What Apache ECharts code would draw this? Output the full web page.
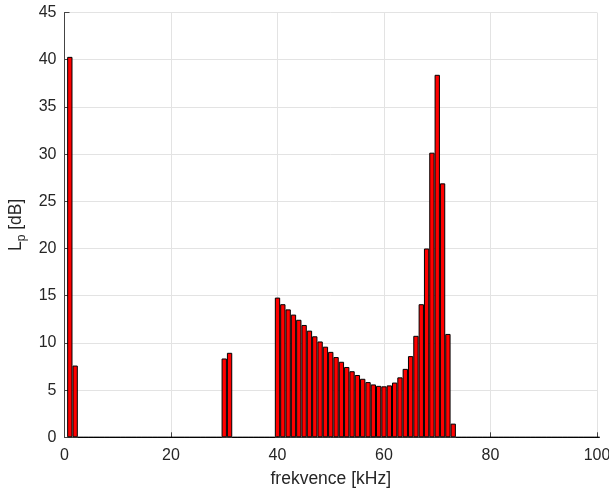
<!DOCTYPE html>
<html>
<head>
<meta charset="utf-8">
<script src="https://cdn.jsdelivr.net/npm/echarts@6/dist/echarts.min.js"></script>
<style>html,body{margin:0;padding:0;background:#fff}#c{width:609px;height:494px}</style>
</head>
<body>
<div id="c"></div>
<script>
// frequencies in kHz (1..100); nonzero levels listed, all others are 0
var frequencies = [];
for (var i = 1; i <= 100; i++) frequencies.push(i);
var peakFreqs = [1, 2, 30, 31,
  40, 41, 42, 43, 44, 45, 46, 47, 48, 49, 50, 51, 52, 53, 54, 55, 56, 57, 58, 59,
  60, 61, 62, 63, 64, 65, 66, 67, 68, 69, 70, 71, 72, 73];
var peakLevels = [40.3, 7.6, 8.35, 8.95,
  14.8, 14.1, 13.55, 13.0, 12.45, 11.9, 11.3, 10.7, 10.15, 9.6, 9.05, 8.5, 8.0, 7.45, 7.0, 6.6, 6.2, 5.85, 5.6, 5.45,
  5.4, 5.5, 5.8, 6.35, 7.25, 8.6, 10.75, 14.1, 20.0, 30.15, 38.4, 26.9, 10.95, 1.45];
var xTicks = [0, 20, 40, 60, 80, 100];
var yTicks = [0, 5, 10, 15, 20, 25, 30, 35, 40, 45];

var levels = frequencies.map(function (f) {
  var k = peakFreqs.indexOf(f);
  return k >= 0 ? peakLevels[k] : 0;
});
var data = frequencies.map(function (f, i) { return [f, levels[i]]; });

var chart = echarts.init(document.getElementById('c'));
var font = 'Liberation Sans, Arial, Helvetica, sans-serif';
chart.setOption({
  animation: false,
  grid: { left: 64.5, right: 12, top: 12.5, bottom: 56.7, containLabel: false, outerBoundsMode: 'none' },
  xAxis: {
    type: 'value', min: xTicks[0], max: xTicks[xTicks.length - 1], interval: 20,
    name: 'frekvence [kHz]', nameLocation: 'middle', nameGap: 33,
    nameTextStyle: { fontFamily: font, fontSize: 17.5, color: '#262626' },
    axisLine: { show: true, lineStyle: { color: '#444', width: 1 } },
    axisTick: { show: true, inside: true, length: 5, lineStyle: { color: '#444' } },
    axisLabel: { fontFamily: font, fontSize: 16, color: '#262626', margin: 10 },
    splitLine: { show: true, lineStyle: { color: '#e3e3e3', width: 1 } }
  },
  yAxis: {
    type: 'value', min: yTicks[0], max: yTicks[yTicks.length - 1], interval: 5,
    name: '{a|L}{b|p}{a| [dB]}', nameLocation: 'middle', nameGap: 34, nameRotate: 90,
    nameTextStyle: {
      rich: {
        a: { fontFamily: font, fontSize: 17.5, color: '#262626', lineHeight: 22 },
        b: { fontFamily: font, fontSize: 12, color: '#262626', lineHeight: 22, padding: [11, 0, 0, 0] }
      }
    },
    axisLine: { show: true, lineStyle: { color: '#444', width: 1 } },
    axisTick: { show: true, inside: true, length: 5, lineStyle: { color: '#444' } },
    axisLabel: { fontFamily: font, fontSize: 16, color: '#262626', margin: 8 },
    splitLine: { show: true, lineStyle: { color: '#e3e3e3', width: 1 } }
  },
  series: [{
    type: 'bar',
    data: data,
    barWidth: '100%',
    itemStyle: { color: '#ff0000', borderColor: '#000', borderWidth: 1 }
  }]
});
</script>
</body>
</html>
